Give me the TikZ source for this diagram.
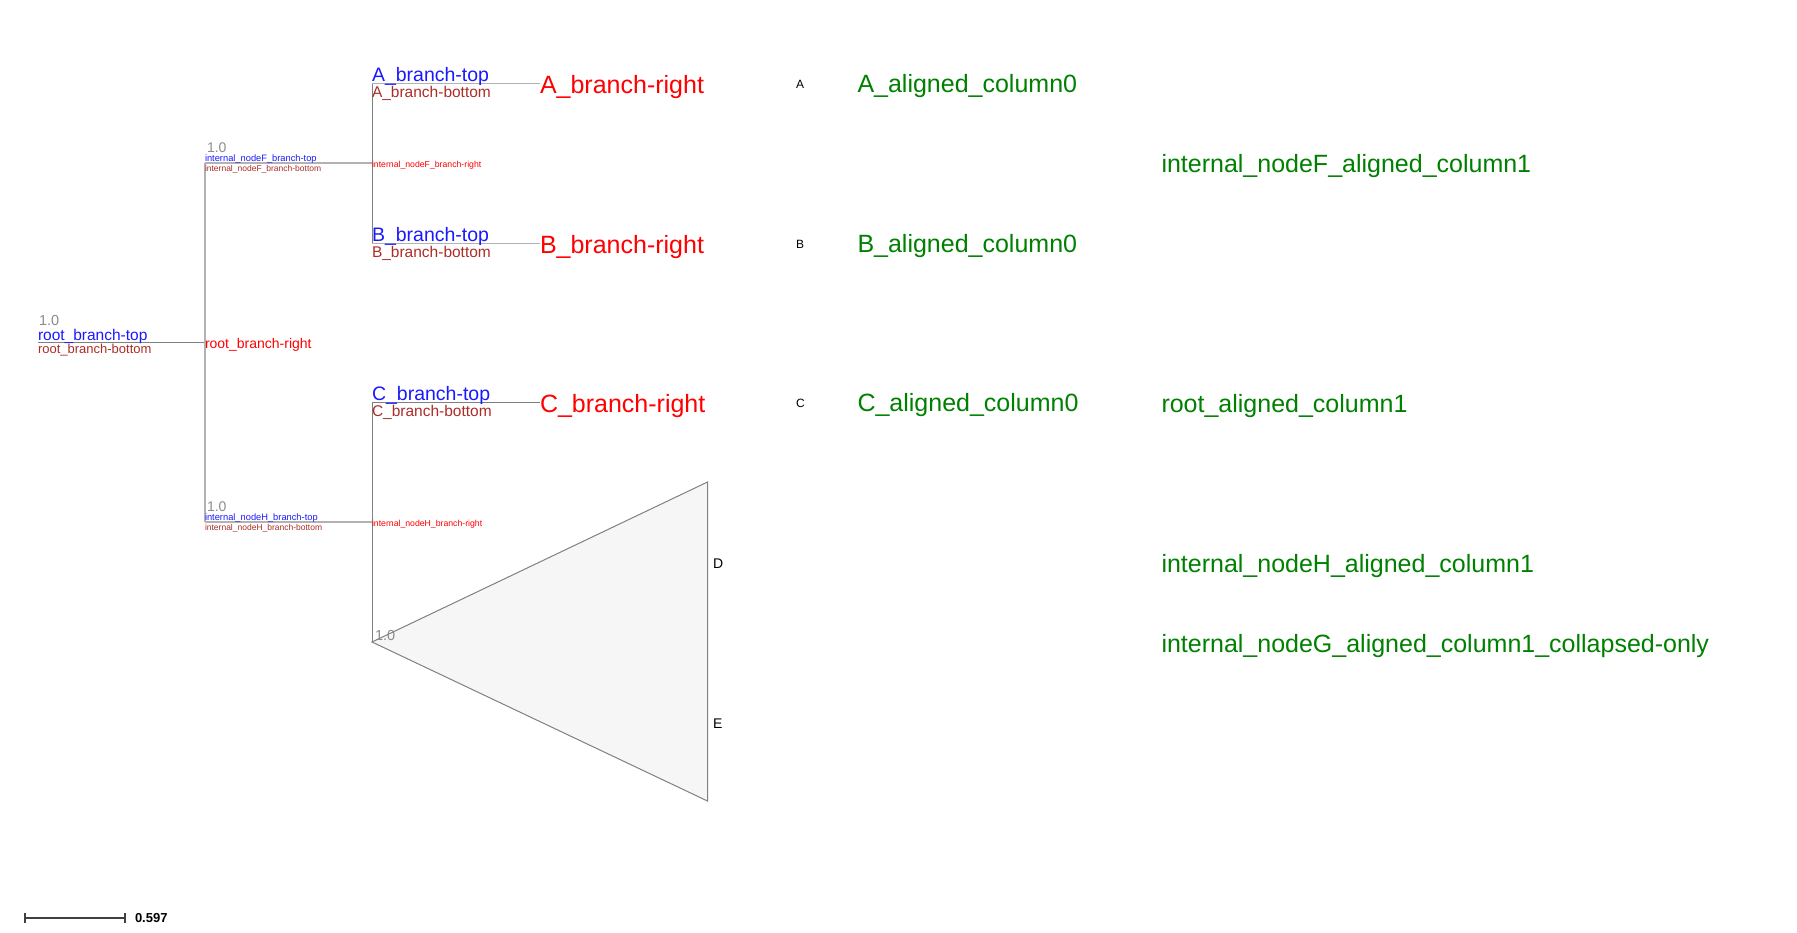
\documentclass[tikz,border=0pt]{standalone}
\usepackage{fontspec}
\setmainfont{Liberation Sans}
\usetikzlibrary{positioning}
\definecolor{topblue}{RGB}{25,25,255}
\definecolor{botbrown}{RGB}{170,45,40}
\definecolor{rightred}{RGB}{255,0,0}
\definecolor{alngreen}{RGB}{0,128,0}
\definecolor{suppgray}{RGB}{140,140,140}
\definecolor{edgegray}{RGB}{128,128,128}
\definecolor{edgelight}{RGB}{178,178,178}
\definecolor{collfill}{RGB}{246,246,246}
\definecolor{scalegray}{RGB}{64,64,64}
\newcommand{\fsz}[1]{\fontsize{#1}{#1}\selectfont}

\begin{document}
\begin{tikzpicture}[
  x=1pt, y=-1pt,
  lbl/.style={inner sep=0pt, outer sep=0pt},
  toplbl/.style={lbl, anchor=base west, text=topblue},
  botlbl/.style={lbl, anchor=base west, text=botbrown},
  supp/.style={lbl, anchor=base west, text=suppgray},
  mid/.style={lbl, anchor=west, text height=#1, text depth=0pt},
  rgtlbl/.style={mid=#1, text=rightred, yshift=-1.5pt},
  aln/.style={mid=16.6pt, text=alngreen, font=\fsz{25}},
  leafname/.style={mid=#1, text=black},
  edge/.style={draw=edgegray, line width=1pt},
  edgelt/.style={draw=edgelight, line width=1.6pt}
]
\useasboundingbox (0,0) rectangle (1797,932);

% tree skeleton
\coordinate (r0) at (38,342);
\coordinate (root) at (205,342);
\coordinate (F) at (372,163);
\coordinate (H) at (372,522);
\coordinate (A) at (540,83.5);
\coordinate (B) at (540,243.5);
\coordinate (C) at (540,402.5);
\coordinate (G) at (372,642);
\coordinate (Gtop) at (707.5,482);
\coordinate (Gbot) at (707.5,801);

\draw[edge] (r0) -- (root);
\draw[edgelt] (root |- F) -- (root |- H);
\draw[edgelt] (root |- F) -- (F);
\draw[edgelt] (root |- H) -- (H);
\draw[edge] (F |- A) -- (F |- B);
\draw[edgelt] (F |- A) -- (A);
\draw[edgelt] (F |- B) -- (B);
\draw[edge] (H |- C) -- (G);
\draw[edge] (H |- C) -- (C);
\draw[edge, fill=collfill] (G) -- (Gtop) -- (Gbot) -- cycle;

% root
\node[supp, font=\fsz{14.5}] (rootsupp) at (39,325) {1.0};
\node[toplbl, font=\fsz{15.5}] (roottop) at (38,340.8) {root\_branch-top};
\node[botlbl, font=\fsz{13}] (rootbot) at (38,353.5) {root\_branch-bottom};
\node[rgtlbl=9.2pt, font=\fsz{14}] (rootrgt) at (root) {root\_branch-right};

% internal F
\node[supp, font=\fsz{14}] (Fsupp) at (207,152) {1.0};
\node[toplbl, font=\fsz{9.3}] (Ftop) at (205,161.8) {internal\_nodeF\_branch-top};
\node[botlbl, font=\fsz{8.5}] (Fbot) at (205,171) {internal\_nodeF\_branch-bottom};
\node[rgtlbl=5.6pt, font=\fsz{8.7}] (Frgt) at (F) {internal\_nodeF\_branch-right};

% internal H
\node[supp, font=\fsz{14}] (Hsupp) at (207,511) {1.0};
\node[toplbl, font=\fsz{9.3}] (Htop) at (205,520.8) {internal\_nodeH\_branch-top};
\node[botlbl, font=\fsz{8.5}] (Hbot) at (205,530) {internal\_nodeH\_branch-bottom};
\node[rgtlbl=5.6pt, font=\fsz{8.7}] (Hrgt) at (H) {internal\_nodeH\_branch-right};

% leaves A, B, C
\foreach \lf/\yy in {A/83.5, B/243.5, C/402.5}{
  \node[toplbl, font=\fsz{19.5}] (\lf top) at (372,\yy-2.4) {\lf\_branch-top};
  \node[botlbl, font=\fsz{15.5}] (\lf bot) at (372,\yy+13.6) {\lf\_branch-bottom};
  \node[rgtlbl=16.6pt, font=\fsz{25}] (\lf rgt) at (\lf) {\lf\_branch-right};
  \node[leafname=8.2pt, font=\fsz{12}] (\lf name) at (796,\yy+1) {\lf};
  \node[aln] (\lf col0) at (857.5,\yy+0.5) {\lf\_aligned\_column0};
}

% collapsed G
\node[supp, font=\fsz{14.5}] (Gsupp) at (375,640) {1.0};
\node[leafname=9.6pt, font=\fsz{14}] (Dname) at (713,563.5) {D};
\node[leafname=9.6pt, font=\fsz{14}] (Ename) at (713,723.5) {E};

% aligned column 1
\node[aln] (Fcol1) at (1161.5,164.5) {internal\_nodeF\_aligned\_column1};
\node[aln] (rootcol1) at (1161.5,404) {root\_aligned\_column1};
\node[aln] (Hcol1) at (1161.5,564) {internal\_nodeH\_aligned\_column1};
\node[aln] (Gcol1) at (1161.5,644) {internal\_nodeG\_aligned\_column1\_collapsed-only};

% scale bar
\coordinate (sb0) at (25,918);
\coordinate (sb1) at (125,918);
\draw[scalegray, line width=2pt] (sb0) -- (sb1);
\draw[scalegray, line width=2pt] ([yshift=-5pt]sb0) -- ([yshift=5pt]sb0);
\draw[scalegray, line width=2pt] ([yshift=-5pt]sb1) -- ([yshift=5pt]sb1);
\node[lbl, anchor=base west, font=\fsz{13}\bfseries] (sblbl) at (135,922.7) {0.597};
\end{tikzpicture}
\end{document}
